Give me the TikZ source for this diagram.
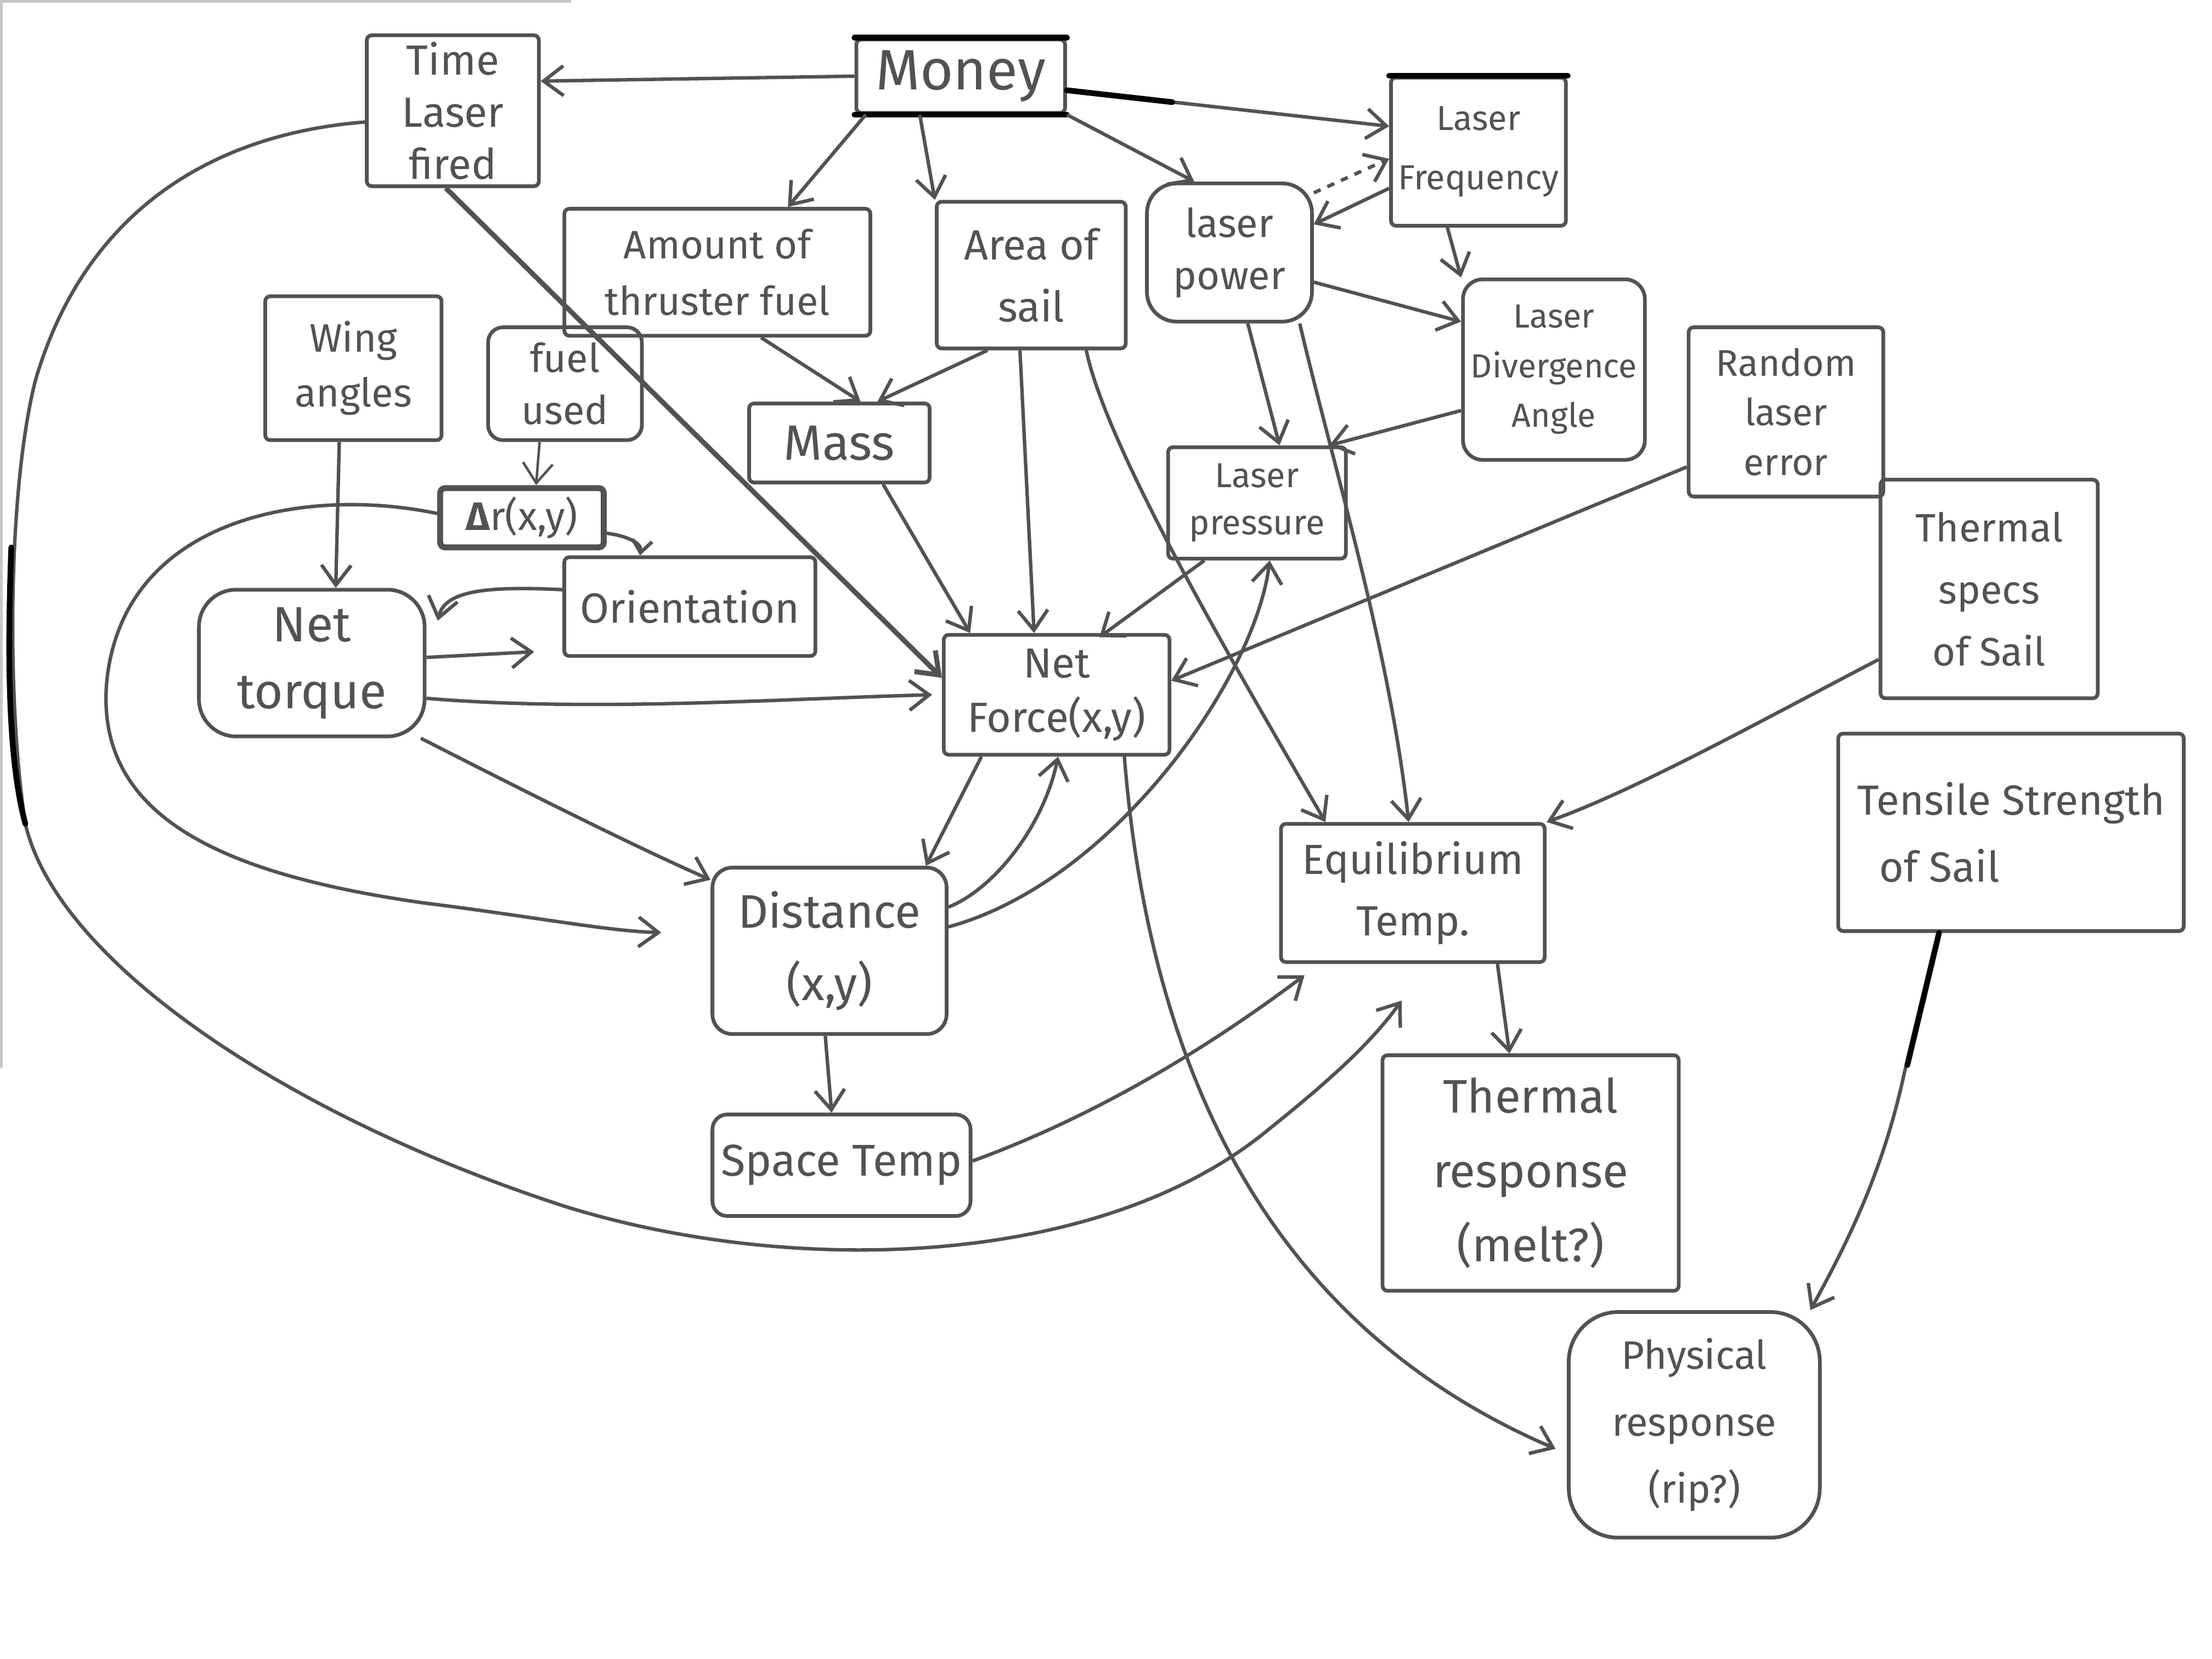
\documentclass[tikz,border=0pt]{standalone}
\usepackage{fontspec}
\setmainfont{Fira Sans}
\usetikzlibrary{arrows.meta,calc}
\definecolor{ink}{RGB}{82,82,82}
\newcommand\fsz[2]{\fontsize{#1}{#2}\selectfont}
\begin{document}
\begin{tikzpicture}[x=0.02cm,y=-0.02cm,
  box/.style={draw=ink, line width=1.5pt, inner sep=0pt, text=ink, align=center, rounded corners=2pt},
  conn/.style={draw=ink, line width=1.4pt, -{Straight Barb[length=8pt,width=12pt]}},
  smallhead/.style={-{Straight Barb[length=5pt,width=8pt]}},
  blackink/.style={draw=black, line width=2.3pt, line cap=round}]
\useasboundingbox (0,0) rectangle (1568,1176);
\fill[white] (0,0) rectangle (1568,1176);
% scan borders
\draw[gray!45, line width=1pt] (0,1) -- (405,1);
\draw[gray!45, line width=1pt] (1,0) -- (1,757);

% nodes
\node[box, minimum width=2.44cm, minimum height=2.14cm, font=\fsz{17}{21}] (tlf) at (321,78.5) {Time\\Laser\\fired};
\node[box, minimum width=2.96cm, minimum height=1.04cm, font=\fsz{23}{26}] (money) at (681,54) {Money};
\node[box, minimum width=2.48cm, minimum height=2.10cm, font=\fsz{14}{24}] (freq) at (1048,107.5) {Laser\\Frequency};
\node[box, minimum width=4.34cm, minimum height=1.80cm, font=\fsz{16}{23}] (fuel) at (508.5,193) {Amount of\\thruster fuel};
\node[box, minimum width=2.68cm, minimum height=2.08cm, font=\fsz{17}{25}] (area) at (731,195) {Area of\\sail};
\node[box, minimum width=2.34cm, minimum height=1.96cm, font=\fsz{16}{21}, rounded corners=12pt] (power) at (871.5,179) {laser\\power};
\node[box, minimum width=2.58cm, minimum height=2.56cm, font=\fsz{13.5}{20}, rounded corners=8pt] (diverg) at (1101.5,262) {Laser\\Divergence\\Angle};
\node[box, minimum width=2.50cm, minimum height=2.04cm, font=\fsz{16}{22}] (wing) at (250.5,261) {Wing\\angles};
\node[box, minimum width=2.18cm, minimum height=1.60cm, font=\fsz{16}{21}, rounded corners=6pt] (used) at (400.5,272) {fuel\\used};
\node[box, minimum width=2.56cm, minimum height=1.12cm, font=\fsz{20}{24}] (mass) at (595,314) {Mass};
\node[box, minimum width=2.76cm, minimum height=2.40cm, font=\fsz{15}{20}] (random) at (1266,292) {Random\\laser\\error};
\node[box, minimum width=2.52cm, minimum height=1.58cm, font=\fsz{14}{19}] (press) at (891,356.5) {Laser\\pressure};
\node[box, minimum width=2.32cm, minimum height=0.84cm, line width=2.4pt, font=\fsz{16}{20}] (dr) at (370,367) {{\bfseries Δ}r(x,y)};
\node[box, minimum width=3.56cm, minimum height=1.40cm, font=\fsz{17}{21}] (orient) at (489,430) {Orientation};
\node[box, minimum width=3.20cm, minimum height=2.08cm, font=\fsz{20}{27}, rounded corners=15pt] (torque) at (221,470) {Net\\torque};
\node[box, minimum width=3.20cm, minimum height=1.70cm, font=\fsz{17}{22}] (force) at (749,492.5) {Net\\Force(x,y)};
\node[box, minimum width=3.08cm, minimum height=3.10cm, font=\fsz{16}{25}] (specs) at (1410,417.5) {Thermal\\specs\\of Sail};
\node[box, minimum width=4.90cm, minimum height=2.80cm, font=\fsz{17}{27}, align=left] (tensile) at (1425.5,590) {Tensile Strength\\\ \ of Sail};
\node[box, minimum width=3.74cm, minimum height=1.96cm, font=\fsz{17}{25}] (equil) at (1001.5,633) {Equilibrium\\Temp.};
\node[box, minimum width=3.32cm, minimum height=2.36cm, font=\fsz{19}{29}, rounded corners=8pt] (dist) at (588,674) {Distance\\(x,y)};
\node[box, minimum width=3.66cm, minimum height=1.44cm, font=\fsz{18}{22}, rounded corners=6pt] (space) at (596.5,826) {Space Temp};
\node[box, minimum width=4.20cm, minimum height=3.34cm, font=\fsz{19}{30}] (thermal) at (1085,831.5) {Thermal\\response\\(melt?)};
\node[box, minimum width=3.56cm, minimum height=3.20cm, font=\fsz{16}{27}, rounded corners=20pt] (phys) at (1201,1010) {Physical\\response\\(rip?)};

% black ink overlays on boxes
\draw[blackink] (money.north west) -- (money.north east);
\draw[blackink] (money.south west) -- (money.south east);
\draw[blackink] (freq.north west) -- (freq.north east);

% connectors from Money
\draw[conn] (money.west) -- ($(tlf.east)+(0,-21)$);
\draw[conn] ($(money.east)+(0,10)$) -- ($(freq.west)+(0,-18)$);
\draw[blackink] ($(money.east)+(0,10)$) -- (831,72.4);
\draw[conn] ($(money.south west)+(8,0)$) -- ($(fuel.north)+(50,0)$);
\draw[conn] ($(money.south)+(-29,0)$) -- (area.north west);
\draw[conn] (money.south east) -- ($(power.north)+(-25,0)$);

% laser group
\draw[conn, dashed] ($(power.north east)+(0,8)$) -- ($(freq.west)+(0,5)$);
\draw[conn] ($(freq.west)+(0,26)$) -- ($(power.east)+(0,-20)$);
\draw[conn] ($(freq.south)+(-22,0)$) -- (diverg.north west);
\draw[conn] ($(power.east)+(0,21)$) -- ($(diverg.west)+(0,-34)$);
\draw[conn] ($(power.south)+(13,0)$) -- ($(press.north)+(16,0)$);
\draw[conn] ($(power.south east)+(-10,0)$) .. controls (945,330) and (985,460) .. ($(equil.north)+(-3,0)$);
\draw[conn] ($(diverg.west)+(0,29)$) -- ($(press.north east)+(-13,0)$);

% fuel, area, mass
\draw[conn] ($(fuel.south)+(31,0)$) -- ($(mass.north)+(15,0)$);
\draw[conn] ($(area.south)+(-31,0)$) -- ($(mass.north)+(27,0)$);
\draw[conn] ($(area.south)+(-8,0)$) -- ($(force.north)+(-16,0)$);
\draw[conn] ($(area.south)+(39,0)$) .. controls (785,320) and (880,480) .. ($(equil.north)+(-62,0)$);
\draw[conn] ($(mass.south)+(31,0)$) -- ($(force.north west)+(20,0)$);
\draw[conn, line width=2pt] ($(tlf.south)+(-5,0)$) -- ($(force.west)+(0,-12)$);

% left cluster
\draw[conn] ($(wing.south)+(-10,0)$) -- ($(torque.north)+(17,0)$);
\draw[conn, line width=1pt] ($(used.south)+(-18,0)$) -- ($(dr.north)+(10,0)$);
\draw[conn, smallhead] ($(dr.east)+(0,11)$) .. controls (445,380) and (455,385) .. ($(orient.north west)+(55,0)$);
\draw[conn] ($(orient.west)+(0,-12)$) .. controls (340,415) and (315,420) .. ($(torque.east)+(8,-30)$);
\draw[conn] ($(torque.east)+(0,-4)$) -- ($(orient.west)+(-20,32)$);
\draw[conn] ($(torque.east)+(0,25)$) .. controls (420,505) and (560,495) .. ($(force.west)+(-7,0)$);
\draw[conn] ($(torque.south east)+(-4,0)$) .. controls (380,565) and (450,600) .. ($(dist.north west)+(0,10)$);
\draw[conn, shorten >=0.7cm] ($(dr.west)+(0,-3)$) .. controls (220,345) and (90,365) .. (76,480)
   .. controls (65,580) and (160,620) .. (300,640) .. controls (380,650) and (430,660) .. ($(dist.west)+(0,-12)$);

% force / distance
\draw[conn] ($(force.south west)+(28,0)$) -- ($(dist.north east)+(-16,0)$);
\draw[conn] ($(dist.east)+(0,-31)$) .. controls (705,630) and (740,585) .. ($(force.south)+(1,0)$);
\draw[conn] ($(dist.east)+(0,-17)$) .. controls (790,625) and (890,480) .. ($(press.south)+(9,0)$);
\draw[conn] ($(random.west)+(0,39)$) -- ($(force.east)+(0,-10)$);
\draw[conn] ($(press.south west)+(27,0)$) -- ($(force.north east)+(-51,3)$);
\draw[conn] ($(dist.south)+(-3,0)$) -- ($(space.north)+(-7,0)$);
\draw[conn] ($(space.east)+(0,-3)$) .. controls (780,790) and (860,740) .. ($(equil.south west)+(18,8)$);

% thermal side
\draw[conn] ($(specs.west)+(0,50)$) .. controls (1250,510) and (1160,560) .. (equil.north east);
\draw[conn] ($(equil.south)+(60,0)$) -- ($(thermal.north)+(-15,0)$);
\draw[conn] ($(tensile.south)+(-51,0)$) -- (1350,760) .. controls (1335,830) and (1310,880) .. ($(phys.north east)+(-8,0)$);
\draw[blackink] ($(tensile.south)+(-51,0)$) -- (1352,755);
\draw[conn] ($(force.south)+(48,0)$) .. controls (815,760) and (900,940) .. ($(phys.west)+(-8,17)$);

% big outer loop from Time Laser fired
\draw[conn] ($(tlf.west)+(0,8)$) .. controls (150,95) and (60,150) .. (25,270)
   .. controls (5,350) and (5,500) .. (18,584)
   .. controls (40,680) and (200,790) .. (400,855)
   .. controls (560,905) and (780,900) .. (900,800)
   .. controls (950,760) and (975,735) .. ($(equil.south)+(-8,26)$);
\draw[blackink] (8,388) .. controls (5,470) and (6,540) .. (18,584);
\end{tikzpicture}
\end{document}
